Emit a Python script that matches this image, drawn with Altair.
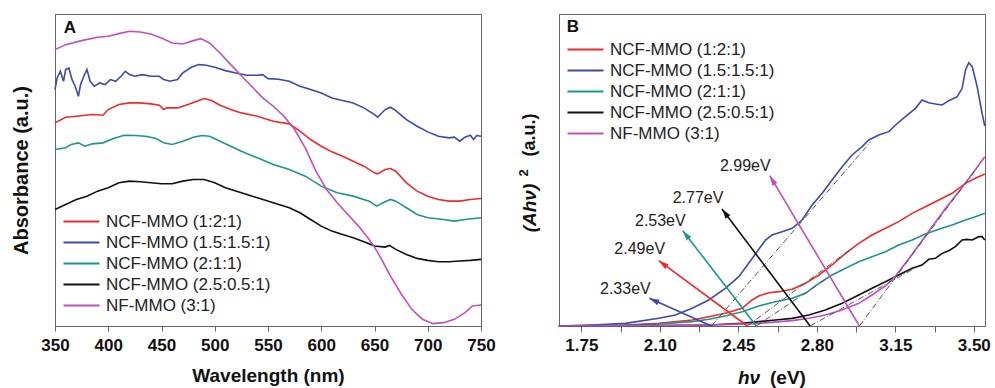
import math
import altair as alt
import pandas as pd

FONT = "Liberation Sans, Arial, Helvetica, sans-serif"
FRAME = "#666666"

SAMPLES = [
    "NCF-MMO (1:2:1)",
    "NCF-MMO (1.5:1.5:1)",
    "NCF-MMO (2:1:1)",
    "NCF-MMO (2.5:0.5:1)",
    "NF-MMO (3:1)",
]
COLORS = ["#f02a2a", "#3c4ba8", "#1d968c", "#111111", "#c050c0"]

# ---------------- Panel A: UV-vis absorbance spectra ----------------
wl_red = [350, 360, 370, 385, 395, 400, 410, 420, 430, 440, 448, 452, 455, 465, 475, 485, 490, 497, 505,
          515, 525, 540, 555, 570, 580, 590, 600, 610, 620, 630, 640, 650, 653, 660, 665, 670, 680, 690,
          700, 710, 720, 730, 740, 750]
abs_red = [61.0, 62.7, 63.0, 63.5, 63.3, 65.0, 66.5, 67.0, 67.0, 66.7, 66.3, 65.0, 65.5, 65.5, 66.5, 67.7,
           68.3, 67.7, 66.3, 65.0, 64.0, 63.0, 61.5, 60.7, 58.5, 56.0, 54.0, 52.3, 51.0, 49.5, 48.0, 46.0,
           45.7, 47.0, 47.3, 46.5, 43.0, 40.5, 39.0, 38.0, 37.5, 37.5, 38.0, 38.3]

wl_blue = [350, 352, 355, 358, 360, 363, 366, 369, 372, 374, 377, 380, 383, 387, 392, 397, 402, 407, 412,
           416, 420, 425, 432, 440, 448, 452, 458, 465, 470, 478, 485, 492, 500, 510, 520, 530, 540, 545,
           550, 560, 570, 580, 590, 600, 610, 620, 630, 640, 650, 653, 660, 665, 670, 680, 690, 700, 710,
           720, 725, 730, 735, 740, 743, 746, 750]
abs_blue = [71.0, 74.5, 76.5, 73.5, 77.0, 77.5, 74.0, 72.0, 69.0, 72.5, 75.0, 77.0, 73.5, 72.0, 73.0, 72.5,
            74.0, 73.5, 75.0, 76.5, 75.5, 75.0, 75.5, 75.0, 75.0, 74.0, 73.5, 74.0, 76.0, 77.7, 78.5, 78.3,
            77.7, 76.7, 76.0, 75.3, 75.3, 75.5, 74.3, 74.1, 73.5, 72.0, 71.0, 70.0, 68.5, 67.7, 67.0, 65.5,
            63.5, 62.7, 65.0, 65.7, 64.7, 62.0, 60.0, 58.3, 57.0, 56.5, 56.7, 55.5, 56.7, 57.3, 56.0, 57.2,
            57.0]

wl_teal = [350, 360, 365, 372, 378, 385, 395, 405, 415, 425, 435, 445, 452, 460, 470, 480, 488, 495, 505,
           515, 525, 540, 555, 570, 585, 600, 615, 630, 645, 652, 658, 665, 670, 680, 690, 700, 715, 725,
           735, 750]
abs_teal = [53.0, 53.5, 54.5, 55.0, 54.0, 54.7, 55.0, 56.3, 57.3, 57.2, 57.0, 56.3, 55.0, 54.5, 55.5, 56.7,
            57.2, 57.0, 55.5, 54.0, 52.5, 50.5, 48.5, 47.0, 45.0, 42.0, 40.0, 39.0, 37.5, 36.0, 37.0, 38.0,
            37.5, 35.5, 33.5, 32.5, 32.0, 31.5, 32.0, 32.5]

wl_black = [350, 360, 370, 380, 390, 400, 410, 420, 430, 440, 450, 460, 470, 480, 490, 500, 510, 525, 540,
            555, 570, 580, 590, 600, 610, 620, 630, 640, 650, 660, 664, 670, 680, 690, 700, 710, 720, 730,
            740, 750]
abs_black = [35.0, 36.5, 38.0, 39.0, 40.5, 41.5, 43.0, 43.5, 43.3, 43.0, 42.7, 42.7, 43.5, 44.0, 44.0, 43.0,
             41.5, 40.0, 38.5, 37.0, 35.5, 34.0, 32.0, 30.0, 28.5, 27.5, 26.5, 25.3, 24.0, 23.7, 24.2, 23.0,
             21.5, 20.3, 19.7, 19.3, 19.3, 19.5, 19.7, 20.0]

wl_mag = [350, 360, 375, 390, 400, 410, 420, 430, 440, 450, 460, 470, 480, 487, 495, 505, 515, 530, 545,
          555, 565, 575, 585, 595, 605, 615, 625, 635, 645, 650, 655, 665, 675, 685, 695, 705, 715, 725,
          735, 742, 750]
abs_mag = [83.0, 84.5, 85.7, 86.7, 87.0, 87.8, 88.5, 88.3, 87.7, 86.5, 85.0, 84.7, 85.7, 86.3, 85.0, 82.0,
           78.5, 73.5, 68.5, 66.0, 63.0, 59.0, 53.5, 46.5, 41.0, 37.0, 33.5, 30.0, 26.0, 23.7, 21.0, 15.0,
           9.7, 5.0, 2.0, 0.7, 1.0, 2.0, 4.0, 6.0, 6.3]

# ---------------- Panel B: Tauc plot ----------------
ev_red = [1.649, 1.946, 2.095, 2.244, 2.318, 2.392, 2.467, 2.511, 2.541, 2.586, 2.630, 2.690, 2.749, 2.809,
          2.868, 2.928, 2.987, 3.046, 3.106, 3.165, 3.225, 3.284, 3.344, 3.403, 3.463, 3.507, 3.549]
tauc_red = [0.0, 0.3, 0.8, 1.8, 2.8, 3.8, 5.3, 7.8, 9.0, 10.0, 10.3, 11.0, 12.8, 15.3, 18.3, 21.8, 24.8,
            27.3, 29.3, 31.3, 33.8, 35.8, 37.8, 39.8, 42.8, 44.3, 45.6]

ev_blue = [1.649, 1.798, 1.946, 2.095, 2.169, 2.244, 2.318, 2.392, 2.452, 2.496, 2.541, 2.571, 2.600, 2.645,
           2.690, 2.734, 2.779, 2.824, 2.868, 2.913, 2.957, 3.002, 3.032, 3.076, 3.121, 3.151, 3.195, 3.240,
           3.269, 3.299, 3.329, 3.359, 3.388, 3.426, 3.448, 3.463, 3.478, 3.493, 3.515, 3.537, 3.549]
tauc_blue = [0.0, 0.3, 0.8, 2.3, 3.3, 5.3, 7.8, 11.3, 14.8, 18.8, 23.0, 25.8, 27.3, 28.3, 29.3, 31.8, 36.3,
             39.8, 43.8, 47.8, 51.3, 53.8, 55.8, 57.3, 58.3, 60.3, 62.8, 65.3, 67.8, 67.0, 66.6, 66.3, 67.6,
             68.8, 71.3, 76.8, 79.0, 77.8, 71.8, 63.8, 60.0]

ev_teal = [1.649, 1.946, 2.095, 2.244, 2.318, 2.392, 2.467, 2.541, 2.615, 2.690, 2.749, 2.809, 2.868, 2.928,
           2.987, 3.046, 3.106, 3.165, 3.225, 3.284, 3.344, 3.403, 3.463, 3.507, 3.549]
tauc_teal = [0.0, 0.2, 0.6, 1.3, 2.0, 3.0, 4.3, 6.0, 7.3, 8.3, 9.8, 12.8, 15.3, 17.3, 19.3, 20.8, 22.3, 24.3,
             25.8, 27.6, 29.0, 30.3, 31.8, 32.8, 33.8]

ev_black = [1.649, 2.095, 2.318, 2.467, 2.615, 2.690, 2.764, 2.838, 2.913, 2.987, 3.046, 3.106, 3.165, 3.225,
            3.269, 3.299, 3.329, 3.359, 3.388, 3.418, 3.448, 3.470, 3.493, 3.522, 3.537, 3.549]
tauc_black = [0.0, 0.1, 0.3, 0.8, 1.8, 2.3, 3.3, 4.8, 6.8, 9.3, 11.3, 13.3, 15.3, 17.3, 18.3, 20.0, 20.3,
              21.8, 22.6, 23.8, 25.8, 26.0, 25.8, 26.8, 26.8, 25.8]

ev_mag = [1.649, 2.095, 2.392, 2.541, 2.690, 2.764, 2.838, 2.913, 2.987, 3.046, 3.106, 3.151, 3.195, 3.255,
          3.314, 3.374, 3.433, 3.493, 3.549]
tauc_mag = [0.0, 0.1, 0.4, 0.8, 1.6, 2.3, 3.3, 4.8, 6.8, 9.3, 12.0, 15.0, 18.8, 24.3, 29.8, 35.3, 40.3, 45.6,
            50.8]

# band-gap values (x-intercepts of the linear fits)
gap_ev = [2.49, 2.33, 2.53, 2.77, 2.99]
gap_text = ["2.49eV", "2.33eV", "2.53eV", "2.77eV", "2.99eV"]
# end points of the dash-dot linear fits
fit_end_ev = [2.96, 3.04, 2.85, 3.25, 3.52]
fit_end_val = [23.5, 55.3, 14.5, 17.8, 48.0]
# arrow heads and label centres
head_ev = [2.095, 2.053, 2.202, 2.377, 2.590]
head_val = [19.6, 8.3, 28.6, 35.1, 45.1]
label_ev = [2.010, 1.946, 2.102, 2.270, 2.481]
label_val = [23.0, 11.0, 31.5, 38.3, 48.0]

A_DOMAIN = [350, 750]
A_YDOMAIN = [0, 93.7]
B_DOMAIN = [1.65, 3.55]
B_YDOMAIN = [0, 93.6]
W, H = 426, 312
B_TICKS = [1.75, 1.925, 2.10, 2.275, 2.45, 2.625, 2.80, 2.975, 3.15, 3.325, 3.50]


def long_frame(xs, ys):
    rows = []
    for s, xv, yv in zip(SAMPLES, xs, ys):
        for i, (a, b) in enumerate(zip(xv, yv)):
            rows.append({"sample": s, "x": a, "y": b, "i": i})
    return pd.DataFrame(rows)


df_a = long_frame([wl_red, wl_blue, wl_teal, wl_black, wl_mag],
                  [abs_red, abs_blue, abs_teal, abs_black, abs_mag])
df_b = long_frame([ev_red, ev_blue, ev_teal, ev_black, ev_mag],
                  [tauc_red, tauc_blue, tauc_teal, tauc_black, tauc_mag])


def legend(x, y):
    return alt.Legend(orient="none", legendX=x, legendY=y, title=None,
                      symbolType="M-3,0H3", symbolSize=144, symbolStrokeWidth=2,
                      labelFont=FONT, labelFontSize=17, labelColor="#222222", labelLimit=0,
                      labelOffset=16, rowPadding=3, padding=0)


color_scale = alt.Scale(domain=SAMPLES, range=COLORS)

# ---------- panel A ----------
xa = alt.X("x:Q", scale=alt.Scale(domain=A_DOMAIN, nice=False, zero=False),
           axis=alt.Axis(values=list(range(350, 751, 50)), title="Wavelength (nm)",
                         labelFontSize=17, labelFontWeight="bold", labelPadding=6, labelFlush=False,
                         tickSize=5, titleFontSize=19, titlePadding=13))
ya = alt.Y("y:Q", scale=alt.Scale(domain=A_YDOMAIN, nice=False),
           axis=alt.Axis(labels=False, ticks=False, title="Absorbance (a.u.)",
                         titleFontSize=20, titlePadding=24))

lines_a = alt.Chart(df_a).mark_line(strokeWidth=1.6).encode(
    x=xa, y=ya,
    color=alt.Color("sample:N", scale=color_scale, sort=SAMPLES, legend=legend(18, 199)),
    order="i:Q",
)
tag_a = alt.Chart(pd.DataFrame({"t": ["A"]})).mark_text(
    font=FONT, fontSize=17, fontWeight="bold", color="#111111"
).encode(x=alt.value(15), y=alt.value(14), text="t:N")

panel_a = alt.layer(lines_a, tag_a).properties(width=W, height=H)

# ---------- panel B ----------
label_expr = ("indexof(['1.75','2.10','2.45','2.80','3.15','3.50'], format(datum.value, '.2f')) >= 0"
              " ? format(datum.value, '.2f') : ''")


def xb():
    return alt.X("x:Q", scale=alt.Scale(domain=B_DOMAIN, nice=False, zero=False),
                 axis=alt.Axis(values=B_TICKS, labelExpr=label_expr, title=None, labelFlush=False,
                               labelFontSize=17, labelFontWeight="bold", labelPadding=5,
                               tickSize=6))


def yb():
    return alt.Y("y:Q", scale=alt.Scale(domain=B_YDOMAIN, nice=False),
                 axis=alt.Axis(labels=False, ticks=False, title=None))


lines_b = alt.Chart(df_b).mark_line(strokeWidth=1.6).encode(
    x=xb(), y=yb(),
    color=alt.Color("sample:N", scale=color_scale, sort=SAMPLES, legend=legend(18, 27)),
    order="i:Q",
)

fit_rows, arrow_rows, head_rows = [], [], []
sx = W / (B_DOMAIN[1] - B_DOMAIN[0])
sy = H / (B_YDOMAIN[1] - B_YDOMAIN[0])
for k in range(len(SAMPLES)):
    fit_rows += [{"id": k, "x": gap_ev[k], "y": 0.0}, {"id": k, "x": fit_end_ev[k], "y": fit_end_val[k]}]
    arrow_rows += [{"id": k, "x": gap_ev[k], "y": 0.0, "c": COLORS[k]},
                   {"id": k, "x": head_ev[k], "y": head_val[k], "c": COLORS[k]}]
    dx = (head_ev[k] - gap_ev[k]) * sx
    dy = (head_val[k] - 0.0) * sy
    ang = math.degrees(math.atan2(dx, dy)) % 360
    head_rows.append({"x": head_ev[k], "y": head_val[k], "c": COLORS[k], "a": ang})

fits = alt.Chart(pd.DataFrame(fit_rows)).mark_line(
    strokeDash=[6, 2, 1, 2], strokeWidth=0.9, color="#444444"
).encode(x=xb(), y=yb(), detail="id:N")

arrows = alt.Chart(pd.DataFrame(arrow_rows)).mark_line(strokeWidth=1.6).encode(
    x=xb(), y=yb(), detail="id:N", stroke=alt.Stroke("c:N", scale=None)
)
heads = alt.Chart(pd.DataFrame(head_rows)).mark_point(
    shape="M0,0L0.6,2L-0.6,2Z", filled=True, size=100, opacity=1, strokeWidth=0
).encode(x=xb(), y=yb(), fill=alt.Fill("c:N", scale=None), angle=alt.Angle("a:Q", scale=None))

gap_labels = alt.Chart(pd.DataFrame({"x": label_ev, "y": label_val, "t": gap_text})).mark_text(
    font=FONT, fontSize=16, color="#222222"
).encode(x=xb(), y=yb(), text="t:N")

tag_b = alt.Chart(pd.DataFrame({"t": ["B"]})).mark_text(
    font=FONT, fontSize=17, fontWeight="bold", color="#111111"
).encode(x=alt.value(14), y=alt.value(13), text="t:N")


def title_piece(text, px, py, size, italic=False, angle=0):
    return alt.Chart(pd.DataFrame({"t": [text]})).mark_text(
        font=FONT, fontSize=size, fontWeight="bold", fontStyle="italic" if italic else "normal",
        color="#111111", angle=angle, baseline="middle", align="center"
    ).encode(x=alt.value(px), y=alt.value(py), text="t:N")


titles_b = [
    title_piece("hν", 190, 364, 19, italic=True),
    title_piece("(eV)", 229, 364, 19),
    title_piece("(Ahν)", -29, 194, 19, italic=True, angle=270),
    title_piece("2", -35, 159, 13, angle=270),
    title_piece("(a.u.)", -29, 121, 18, angle=270),
]

panel_b = alt.layer(lines_b, fits, arrows, heads, gap_labels, tag_b, *titles_b).properties(width=W, height=H)

chart = alt.hconcat(panel_a, panel_b, spacing=78, bounds="flush").resolve_scale(
    color="independent"
).properties(
    padding={"left": 10, "top": 13, "right": 4, "bottom": 2},
    background="white",
).configure_view(
    stroke=FRAME, strokeWidth=1
).configure_axis(
    domainColor=FRAME, tickColor=FRAME, grid=False,
    labelFont=FONT, titleFont=FONT, labelColor="#111111", titleColor="#111111",
    titleFontWeight="bold",
)

chart.save("out.html", embed_options={"renderer": "svg", "actions": False})
